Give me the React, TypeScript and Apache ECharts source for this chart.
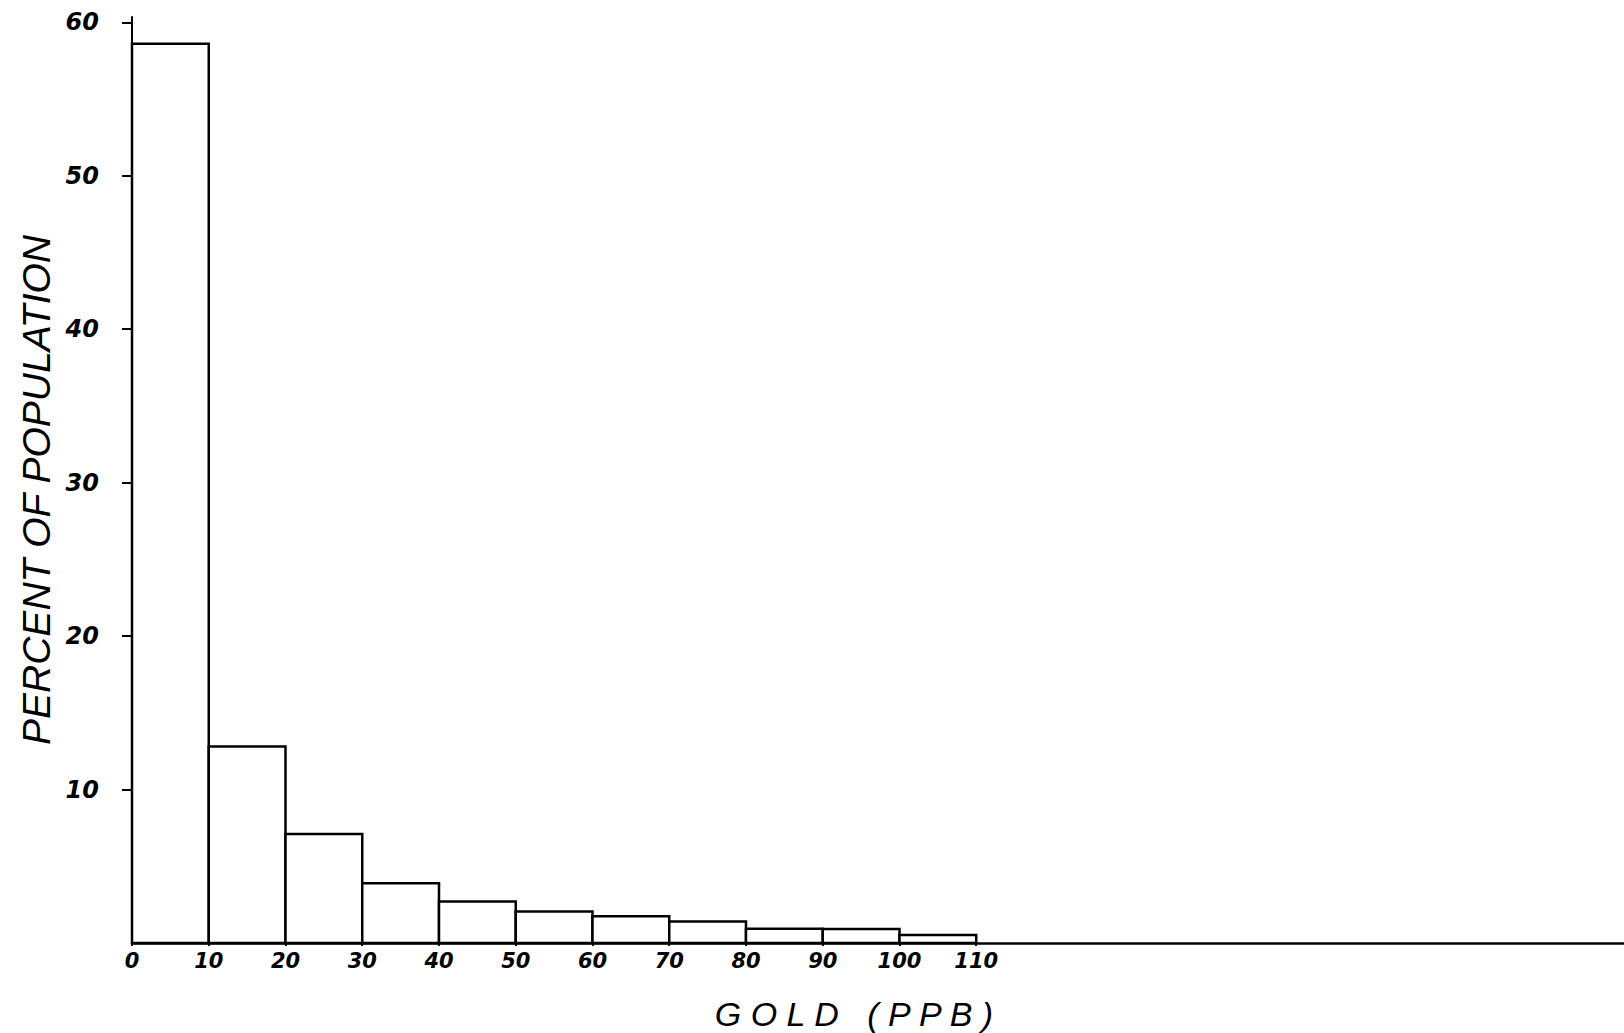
import React, { useEffect, useRef } from "react";
import * as echarts from "echarts";

const binStarts = [0, 10, 20, 30, 40, 50, 60, 70, 80, 90, 100];
const binEnds = [10, 20, 30, 40, 50, 60, 70, 80, 90, 100, 110];
const percents = [58.6, 12.8, 7.1, 3.9, 2.7, 2.05, 1.75, 1.4, 0.93, 0.92, 0.52];
const xTickLabels = [0, 10, 20, 30, 40, 50, 60, 70, 80, 90, 100, 110];
const yTickLabels = [10, 20, 30, 40, 50, 60];
const xAxisTitle = "G O L D   ( P P B )";
const yAxisTitle = "PERCENT OF POPULATION";

export default function App() {
  const ref = useRef<HTMLDivElement>(null);
  useEffect(() => {
    if (!ref.current) return;
    const chart = echarts.init(ref.current, undefined, { renderer: "svg" });
    const data = binStarts.map((s, i) => [s, binEnds[i], percents[i]]);
    const font = "Liberation Sans";
    const numFont = "DejaVu Sans";
    chart.setOption({
      animation: false,
      backgroundColor: "#fff",
      grid: { left: 132, right: 0, top: 17, bottom: 90, containLabel: false, outerBoundsMode: "none" },
      xAxis: {
        type: "value",
        min: 0,
        max: 194.4,
        splitLine: { show: false },
        axisLine: { show: true, lineStyle: { color: "#000", width: 2.5 } },
        axisTick: { show: true, length: 3, customValues: xTickLabels, lineStyle: { color: "#000", width: 2 } },
        axisLabel: {
          customValues: xTickLabels,
          margin: 7,
          color: "#000",
          fontFamily: numFont,
          fontStyle: "italic",
          fontWeight: "bold",
          fontSize: 21,
        },
      },
      yAxis: {
        type: "value",
        min: 0,
        max: 60.35,
        splitLine: { show: false },
        axisLine: { show: true, lineStyle: { color: "#000", width: 2 } },
        axisTick: { show: true, length: 10, customValues: yTickLabels, lineStyle: { color: "#000", width: 2 } },
        axisLabel: {
          customValues: yTickLabels,
          margin: 33,
          color: "#000",
          fontFamily: numFont,
          fontStyle: "italic",
          fontWeight: "bold",
          fontSize: 24,
        },
      },
      series: [
        {
          type: "custom",
          data,
          encode: { x: [0, 1], y: 2 },
          renderItem: (params: any, api: any) => {
            const s = api.value(0);
            const e = api.value(1);
            const v = api.value(2);
            const p0 = api.coord([s, 0]);
            const p1 = api.coord([e, v]);
            return {
              type: "rect",
              shape: { x: p0[0], y: p1[1], width: p1[0] - p0[0], height: p0[1] - p1[1] },
              style: { fill: "#fff", stroke: "#000", lineWidth: 2.5 },
            };
          },
        },
      ],
      graphic: [
        {
          type: "text",
          x: 854,
          y: 1014,
          style: {
            text: xAxisTitle,
            fill: "#000",
            font: `italic 34px "${font}"`,
            align: "center",
            verticalAlign: "middle",
          },
        },
        {
          type: "text",
          x: 36,
          y: 490,
          rotation: Math.PI / 2,
          style: {
            text: yAxisTitle,
            fill: "#000",
            font: `italic 39px "${font}"`,
            align: "center",
            verticalAlign: "middle",
          },
        },
      ],
    });
    return () => chart.dispose();
  }, []);
  return (
    <div
      ref={ref}
      style={{ position: "absolute", left: 0, top: 0, width: 1624, height: 1033 }}
    />
  );
}
